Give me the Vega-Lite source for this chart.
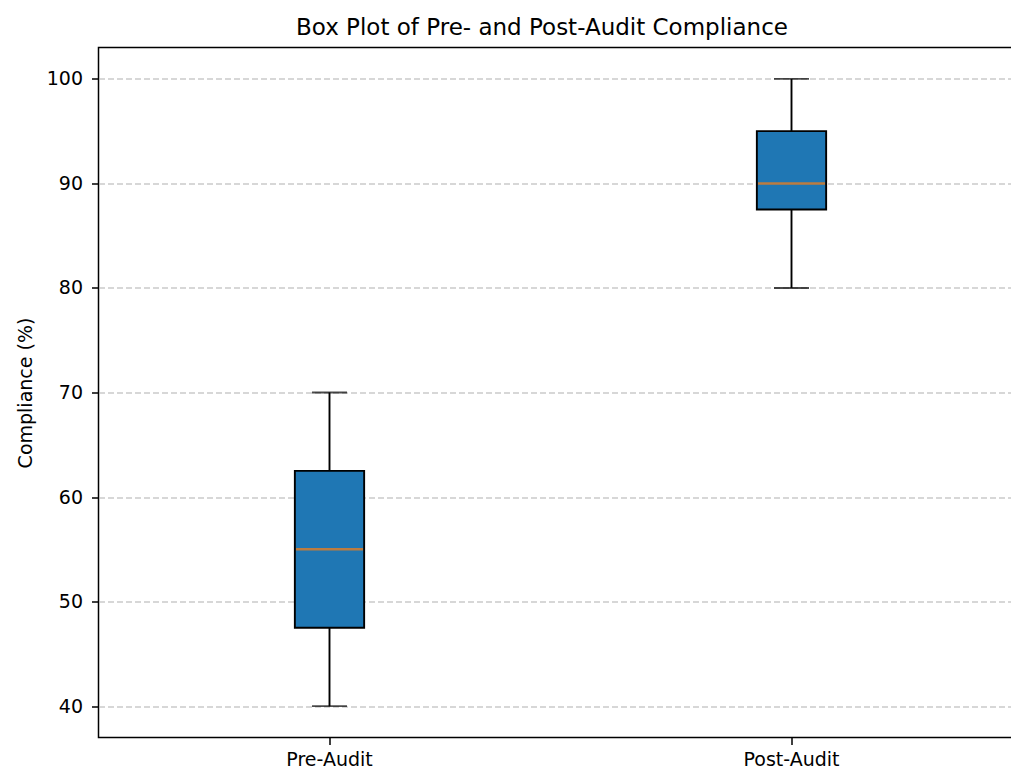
{
  "$schema": "https://vega.github.io/schema/vega-lite/v6.json",
  "autosize": {"type": "none"},
  "padding": {"left": 98.5, "top": 47.5, "right": 0, "bottom": 31.5},
  "width": 924,
  "height": 690,
  "background": "#ffffff",
  "title": {
    "text": "Box Plot of Pre- and Post-Audit Compliance",
    "font": "DejaVu Sans",
    "fontSize": 23,
    "fontWeight": "normal",
    "color": "#000000",
    "baseline": "alphabetic",
    "offset": 11.5,
    "dx": -18.5,
    "dy": 22
  },
  "data": {
    "values": [
      {"group": "Pre-Audit", "low": 40, "q1": 47.5, "median": 55, "q3": 62.5, "high": 70},
      {"group": "Post-Audit", "low": 80, "q1": 87.5, "median": 90, "q3": 95, "high": 100}
    ]
  },
  "encoding": {
    "x": {
      "field": "group",
      "type": "nominal",
      "sort": ["Pre-Audit", "Post-Audit"],
      "scale": {"paddingInner": 0, "paddingOuter": 0},
      "axis": {
        "title": null,
        "labelAngle": 0,
        "labelFont": "DejaVu Sans",
        "labelFontSize": 19,
        "labelColor": "#000000",
        "labelPadding": 6,
        "tickSize": 7,
        "tickWidth": 1.5,
        "tickColor": "#000000",
        "domain": false,
        "grid": false
      }
    }
  },
  "layer": [
    {
      "mark": {"type": "rule", "color": "#000000", "strokeWidth": 1.9},
      "encoding": {
        "y": {
          "field": "low",
          "type": "quantitative",
          "scale": {"domain": [37, 103], "nice": false, "zero": false},
          "axis": {
            "title": "Compliance (%)",
            "titleFont": "DejaVu Sans",
            "titleFontSize": 19,
            "titleFontWeight": "normal",
            "titleColor": "#000000",
            "titlePadding": 11,
            "values": [40, 50, 60, 70, 80, 90, 100],
            "labelFont": "DejaVu Sans",
            "labelFontSize": 19,
            "labelColor": "#000000",
            "labelPadding": 9,
            "tickSize": 7,
            "tickWidth": 1.5,
            "tickColor": "#000000",
            "domain": false,
            "grid": true,
            "gridColor": "#b0b0b0",
            "gridWidth": 1.2,
            "gridDash": [6, 3]
          }
        },
        "y2": {"field": "high"}
      }
    },
    {
      "mark": {"type": "tick", "color": "#000000", "size": 35, "thickness": 1.9},
      "encoding": {"y": {"field": "low", "type": "quantitative"}}
    },
    {
      "mark": {"type": "tick", "color": "#000000", "size": 35, "thickness": 1.9},
      "encoding": {"y": {"field": "high", "type": "quantitative"}}
    },
    {
      "mark": {
        "type": "bar",
        "width": {"band": 0.15},
        "fill": "#1f77b4",
        "stroke": "#000000",
        "strokeWidth": 1.9
      },
      "encoding": {
        "y": {"field": "q1", "type": "quantitative"},
        "y2": {"field": "q3"}
      }
    },
    {
      "mark": {"type": "tick", "color": "#ff7f0e", "size": 67, "thickness": 2.5},
      "encoding": {"y": {"field": "median", "type": "quantitative"}}
    }
  ],
  "config": {
    "view": {"stroke": "#000000", "strokeWidth": 1.5}
  }
}
